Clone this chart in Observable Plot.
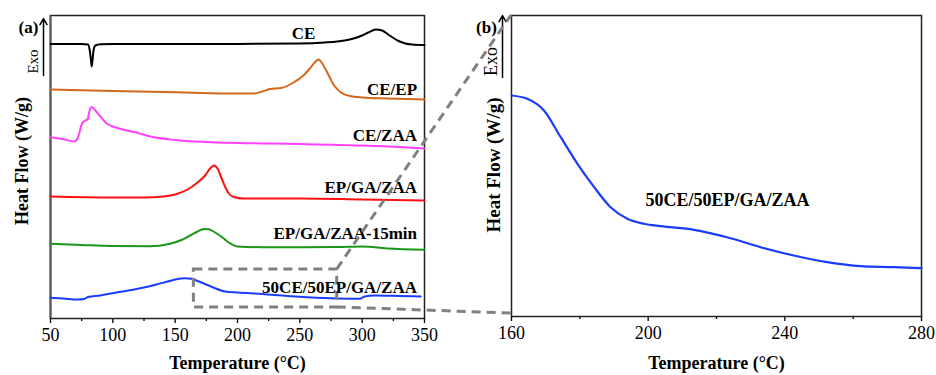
<!DOCTYPE html>
<html><head><meta charset="utf-8">
<script src="https://cdn.jsdelivr.net/npm/d3@7"></script>
<script src="https://cdn.jsdelivr.net/npm/@observablehq/plot@0.6"></script>
<style>
body{margin:0;background:#fff;}
#wrap{position:relative;width:936px;height:375px;overflow:hidden;}
#wrap svg{position:absolute;left:0;top:0;}
#wrap svg [aria-label="x-axis tick label"]{font-size:18px !important;}
#wrap svg [aria-label="x-axis tick label"] text{font-size:18px !important;}
</style></head><body><div id="wrap"></div>
<script>
// ---------- Data (panel a: arbitrary offset heat-flow units, exo up) ----------
const seriesNames = ["CE","CE/EP","CE/ZAA","EP/GA/ZAA","EP/GA/ZAA-15min","50CE/50EP/GA/ZAA"];
const seriesColors = ["#000000","#d2691e","#ff40ff","#ff1010","#1a961a","#1a3cff"];

const ceT  = [50,75,80,81.5,82.5,83,83.7,84.5,86,90,100,150,200,250,270,280,290,300,305,311,316,322,330,340,350];
const ceHF = [27.45,27.45,27.4,26.8,25.8,25.2,25.8,26.8,27.3,27.42,27.45,27.45,27.45,27.5,27.6,27.7,27.9,28.3,28.6,28.9,28.8,28.3,27.7,27.4,27.35];

const ceepT  = [50,100,150,170,200,213,220,226,235,245,252,258,262,265,268,272,277,283,290,300,320,350];
const ceepHF = [22.9,22.75,22.62,22.55,22.5,22.5,22.7,22.95,23.05,23.6,24.2,25.0,25.6,25.9,25.5,24.6,23.4,22.6,22.25,22.1,22.0,21.9];

const cezaaT  = [50,60,69,72,75,77,79,80,81,83,86,90,95,100,110,120,130,150,175,200,250,300,330,350];
const cezaaHF = [18.13,17.95,17.7,18.1,19.4,19.75,19.85,20.0,20.6,21.15,20.8,20.2,19.5,19.2,18.85,18.55,18.2,17.85,17.65,17.55,17.45,17.3,17.15,17.0];

const epT  = [50,100,125,140,150,160,168,174,178,181,184,187,190,193,197,205,250,300,350];
const epHF = [12.2,12.1,12.1,12.2,12.4,12.9,13.6,14.3,15.0,15.3,15.0,14.1,13.2,12.5,12.15,12.0,12.0,11.9,11.8];

const ep15T  = [50,75,100,130,145,155,162,168,173,177,182,188,193,200,220,250,280,300,320,350];
const ep15HF = [7.47,7.35,7.25,7.23,7.45,7.85,8.3,8.7,8.95,8.92,8.6,8.1,7.6,7.2,7.13,7.13,7.15,7.2,7.0,6.87];

const blendT  = [50,60,72,77,80,90,100,115,126,135,142,150,158,163,170,180,190,200,220,240,256,280,298,302,310,330,347];
const blendHF = [2.07,2.0,1.9,1.95,2.15,2.3,2.53,2.85,3.13,3.4,3.63,3.9,4.03,3.97,3.65,3.13,2.7,2.6,2.45,2.25,2.13,2.0,1.97,2.2,2.3,2.25,2.2];

// label positions (panel a)
const labelT  = [253,344,344,344,344,344];
const labelHF = [28.5,22.9,18.3,13.1,8.5,3.1];

// ---------- Data (panel b: zoom of 50CE/50EP/GA/ZAA) ----------
const zoomT  = [160,164.6,169.5,174.4,179.3,184.2,189,193.9,198.8,203.6,213.4,223.1,232.9,242.6,252.4,262.1,271.9,280];
const zoomHF = [22.1,21.77,20.6,17.93,15.27,12.93,10.93,9.77,9.27,9.03,8.67,7.93,6.93,6.1,5.43,5.03,4.93,4.83];

// zoom window drawn in panel a
const zoomBoxT  = [165,280];
const zoomBoxHF = [1.1,4.9];

// axis ticks
const ticksA = [50,100,150,200,250,300,350];
const minorA = [75,125,175,225,275,325];
const ticksB = [160,200,240,280];
const minorB = [180,220,260];

// ---------- Build tables ----------
const seriesT  = [ceT,ceepT,cezaaT,epT,ep15T,blendT];
const seriesHF = [ceHF,ceepHF,cezaaHF,epHF,ep15HF,blendHF];
const rowsA = seriesNames.flatMap((name,i)=>seriesT[i].map((t,j)=>({series:name,T:t,hf:seriesHF[i][j]})));
const labelsA = seriesNames.map((name,i)=>({name,T:labelT[i],hf:labelHF[i]}));
const rowsB = zoomT.map((t,j)=>({T:t,hf:zoomHF[j]}));
const box = [{x1:zoomBoxT[0],x2:zoomBoxT[1],y1:zoomBoxHF[0],y2:zoomBoxHF[1]}];

const FONT = "'Liberation Serif','Times New Roman',serif";
const W = 936, H = 375;
const svgStyle = {background:"transparent",fontFamily:FONT,fontSize:"17px",color:"black",overflow:"visible"};
const mid = {textAnchor: "middle", lineAnchor: "middle", fill: "black"};

const plotA = Plot.plot({
  width: W, height: H,
  marginLeft: 50, marginRight: 512, marginTop: 15, marginBottom: 57,
  style: svgStyle,
  x: {domain: [50,350]},
  y: {domain: [0,30.3], axis: null},
  color: {domain: seriesNames, range: seriesColors},
  marks: [
    Plot.axisX({ticks: ticksA, tickSize: 5, tickPadding: 5, fontSize: 18, label: null, strokeWidth: 1.3}),
    Plot.axisX({ticks: minorA, tickSize: 3, text: null, label: null, strokeWidth: 1.3}),
    Plot.frame({stroke: "#222", strokeWidth: 1.5}),
    Plot.ruleX([50], {stroke: "#555", strokeWidth: 2}),
    Plot.line(rowsA, {x: "T", y: "hf", z: "series", stroke: "series", strokeWidth: 2, curve: "monotone-x"}),
    Plot.rect(box, {x1: "x1", x2: "x2", y1: "y1", y2: "y2", fill: "none", stroke: "#808080", strokeWidth: 3, strokeDasharray: "9,6"}),
    Plot.text(labelsA.slice(0,1), {x: "T", y: "hf", text: "name", textAnchor: "middle", fontWeight: "bold", fontSize: 17, fill: "black"}),
    Plot.text(labelsA.slice(1), {x: "T", y: "hf", text: "name", textAnchor: "end", fontWeight: "bold", fontSize: 17, fill: "black"}),
    Plot.text(["Temperature (°C)"], {...mid, frameAnchor: "bottom", dy: 45, fontWeight: "bold", fontSize: 18}),
    Plot.text(["Heat Flow (W/g)"], {...mid, frameAnchor: "left", rotate: -90, dx: -28, dy: -6, fontWeight: "bold", fontSize: 18}),
    Plot.text(["Exo"], {...mid, frameAnchor: "top-left", rotate: -90, dx: -17, dy: 46, fontSize: 15}),
    Plot.text(["(a)"], {...mid, frameAnchor: "top-left", dx: -22, dy: 12, fontWeight: "bold", fontSize: 17}),
    Plot.arrow([{x: 50, y1: 24.3, y2: 30.0}], {x: "x", y1: "y1", y2: "y2", dx: -7, stroke: "black", strokeWidth: 1.5, headLength: 7})
  ]
});

const plotB = Plot.plot({
  width: W, height: H,
  marginLeft: 511, marginRight: 15, marginTop: 15, marginBottom: 59,
  style: svgStyle,
  x: {domain: [160,280]},
  y: {domain: [0,30.1], axis: null},
  marks: [
    Plot.axisX({ticks: ticksB, tickSize: 5, tickPadding: 5, fontSize: 18, label: null, strokeWidth: 1.3}),
    Plot.axisX({ticks: minorB, tickSize: 3, text: null, label: null, strokeWidth: 1.3}),
    Plot.frame({stroke: "#222", strokeWidth: 1.5}),
    Plot.line(rowsB, {x: "T", y: "hf", stroke: seriesColors[5], strokeWidth: 2.2, curve: "monotone-x"}),
    Plot.text([{name: seriesNames[5], T: 223.2, hf: 11.6}], {x: "T", y: "hf", text: "name", fontWeight: "bold", fontSize: 18, fill: "black"}),
    Plot.text(["Temperature (°C)"], {...mid, frameAnchor: "bottom", dy: 47, fontWeight: "bold", fontSize: 18}),
    Plot.text(["Heat Flow (W/g)"], {...mid, frameAnchor: "left", rotate: -90, dx: -18, dy: -1, fontWeight: "bold", fontSize: 19}),
    Plot.text(["Exo"], {...mid, frameAnchor: "top-left", rotate: -90, dx: -20, dy: 46, fontSize: 18}),
    Plot.text(["(b)"], {...mid, frameAnchor: "top-left", dx: -25, dy: 12, fontWeight: "bold", fontSize: 17}),
    Plot.arrow([{x: 160, y1: 23.9, y2: 30.1}], {x: "x", y1: "y1", y2: "y2", dx: -9, stroke: "black", strokeWidth: 1.5, headLength: 7})
  ]
});

const wrap = document.getElementById("wrap");
wrap.appendChild(plotA);
wrap.appendChild(plotB);

// connector lines from zoom window (panel a) to panel b frame
const xa = plotA.scale("x"), ya = plotA.scale("y");
const xb = plotB.scale("x"), yb = plotB.scale("y");
const links = [
  [xa.apply(zoomBoxT[1]), ya.apply(zoomBoxHF[1]), xb.apply(160), yb.apply(30.1)],
  [xa.apply(zoomBoxT[1]), ya.apply(zoomBoxHF[0]), xb.apply(160), yb.apply(0.3)]
];
d3.select(plotB).append("g")
  .selectAll("line").data(links).join("line")
  .attr("x1", d => d[0]).attr("y1", d => d[1])
  .attr("x2", d => d[2]).attr("y2", d => d[3])
  .attr("stroke", "#808080").attr("stroke-width", 3).attr("stroke-dasharray", "9,6");
</script></body></html>
